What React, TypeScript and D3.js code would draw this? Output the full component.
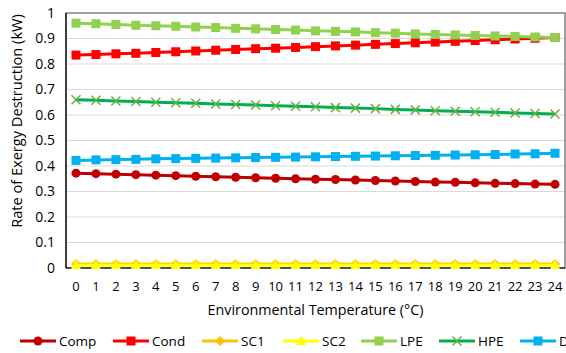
import React from 'react';
import * as d3 from 'd3';

const temps = d3.range(0, 25).map(String);
const yTicks = [0, 0.1, 0.2, 0.3, 0.4, 0.5, 0.6, 0.7, 0.8, 0.9, 1];

const comp = [0.372, 0.370, 0.368, 0.366, 0.364, 0.362, 0.360, 0.358, 0.356, 0.354, 0.352, 0.350, 0.348, 0.347, 0.345, 0.343, 0.341, 0.339, 0.337, 0.336, 0.334, 0.332, 0.331, 0.329, 0.328];
const cond = [0.835, 0.837, 0.840, 0.842, 0.845, 0.848, 0.851, 0.854, 0.857, 0.860, 0.862, 0.865, 0.868, 0.871, 0.874, 0.877, 0.880, 0.883, 0.886, 0.889, 0.892, 0.895, 0.898, 0.901, 0.904];
const sc1 = [0.016, 0.016, 0.016, 0.016, 0.016, 0.016, 0.016, 0.016, 0.016, 0.016, 0.016, 0.016, 0.016, 0.016, 0.016, 0.016, 0.016, 0.016, 0.016, 0.016, 0.016, 0.016, 0.016, 0.016, 0.016];
const sc2 = [0.012, 0.012, 0.012, 0.012, 0.012, 0.012, 0.012, 0.012, 0.012, 0.012, 0.012, 0.012, 0.012, 0.012, 0.012, 0.012, 0.012, 0.012, 0.012, 0.012, 0.012, 0.012, 0.012, 0.012, 0.012];
const lpe = [0.960, 0.958, 0.955, 0.952, 0.950, 0.948, 0.945, 0.943, 0.940, 0.938, 0.935, 0.933, 0.930, 0.928, 0.926, 0.923, 0.921, 0.918, 0.916, 0.914, 0.912, 0.910, 0.908, 0.906, 0.904];
const hpe = [0.660, 0.658, 0.655, 0.653, 0.650, 0.648, 0.646, 0.643, 0.641, 0.639, 0.636, 0.634, 0.632, 0.629, 0.627, 0.625, 0.622, 0.620, 0.617, 0.615, 0.613, 0.611, 0.608, 0.606, 0.604];
const diff = [0.422, 0.424, 0.425, 0.426, 0.428, 0.429, 0.430, 0.431, 0.432, 0.433, 0.434, 0.435, 0.436, 0.437, 0.438, 0.439, 0.440, 0.441, 0.442, 0.443, 0.444, 0.445, 0.447, 0.448, 0.450];

type Series = {name: string; values: number[]; color: string; marker: string; mcolor: string};

const series: Series[] = [
  {name: 'Comp', values: comp, color: '#C00000', marker: 'circle', mcolor: '#C00000'},
  {name: 'Cond', values: cond, color: '#FF0000', marker: 'square', mcolor: '#FF0000'},
  {name: 'SC1', values: sc1, color: '#FFC000', marker: 'diamond', mcolor: '#FFC000'},
  {name: 'SC2', values: sc2, color: '#FFFF00', marker: 'triangle', mcolor: '#FFFF00'},
  {name: 'LPE', values: lpe, color: '#92D050', marker: 'square', mcolor: '#92D050'},
  {name: 'HPE', values: hpe, color: '#00B050', marker: 'x', mcolor: '#70AD47'},
  {name: 'D', values: diff, color: '#00B0F0', marker: 'square', mcolor: '#00B0F0'},
];

const legendX = [20, 113, 202, 283, 361, 439, 520];
const font = '"Open Sans", "Noto Sans", sans-serif';

function Marker({s, x, y}: {s: Series; x: number; y: number}) {
  const c = s.mcolor;
  if (s.marker === 'circle') return <circle cx={x} cy={y} r={4.5} fill={c} />;
  if (s.marker === 'square') return <rect x={x - 4.5} y={y - 4.5} width={9} height={9} fill={c} />;
  if (s.marker === 'diamond') return <path d={`M${x},${y - 5}L${x + 5},${y}L${x},${y + 5}L${x - 5},${y}Z`} fill={c} />;
  if (s.marker === 'triangle') return <path d={`M${x},${y - 5.5}L${x + 5},${y + 4}L${x - 5},${y + 4}Z`} fill={c} />;
  return <path d={`M${x - 4.5},${y - 4.5}L${x + 4.5},${y + 4.5}M${x - 4.5},${y + 4.5}L${x + 4.5},${y - 4.5}`} stroke={c} strokeWidth={1.5} fill="none" />;
}

export default function App() {
  const W = 566;
  const H = 353;
  const left = 66;
  const right = 565;
  const top = 13;
  const bottom = 268;

  const x = d3.scaleBand().domain(temps).range([left, right]);
  const y = d3.scaleLinear().domain([0, 1]).range([bottom, top]);
  const cx = (i: number) => (x(temps[i]) as number) + x.bandwidth() / 2;
  const line = d3.line<number>().x((_, i) => cx(i)).y((d) => y(d));

  return (
    <svg width={W} height={H} style={{position: 'absolute', left: 0, top: 0, background: '#fff'}}
      fontFamily={font}>
      {yTicks.map((t) => (
        <g key={t}>
          {t > 0 && t < 1 && <line x1={left} x2={right} y1={y(t)} y2={y(t)} stroke="#d9d9d9" strokeWidth={1} />}
          <text x={55} y={y(t)} dy="0.35em" textAnchor="end" fontSize={14} fill="#000">{t}</text>
        </g>
      ))}
      <rect x={left} y={top} width={right - left} height={bottom - top} fill="none" stroke="#404040" strokeWidth={1} />
      <line x1={left} x2={right} y1={bottom} y2={bottom} stroke="#000" strokeWidth={1.2} />
      <line x1={left} x2={left} y1={top} y2={bottom} stroke="#000" strokeWidth={1.2} />
      {temps.map((t, i) => (
        <text key={t} x={cx(i)} y={291} textAnchor="middle" fontSize={13} fill="#000">{t}</text>
      ))}
      <text x={(left + right) / 2} y={315} textAnchor="middle" fontSize={14.3} fill="#000">Environmental Temperature (°C)</text>
      <text transform="translate(22,121) rotate(-90)" textAnchor="middle" fontSize={14.6} fill="#000">Rate of Exergy Destruction (kW)</text>
      {series.map((s) => (
        <g key={s.name}>
          <path d={line(s.values) || ''} fill="none" stroke={s.color} strokeWidth={3} />
          {s.values.map((v, i) => <Marker key={i} s={s} x={cx(i)} y={y(v)} />)}
        </g>
      ))}
      {series.map((s, k) => (
        <g key={s.name}>
          <line x1={legendX[k]} x2={legendX[k] + 36} y1={341} y2={341} stroke={s.color} strokeWidth={3} />
          <Marker s={s} x={legendX[k] + 18} y={341} />
          <text x={legendX[k] + 39} y={341} dy="0.35em" fontSize={13.5} fill="#000">{s.name}</text>
        </g>
      ))}
    </svg>
  );
}
